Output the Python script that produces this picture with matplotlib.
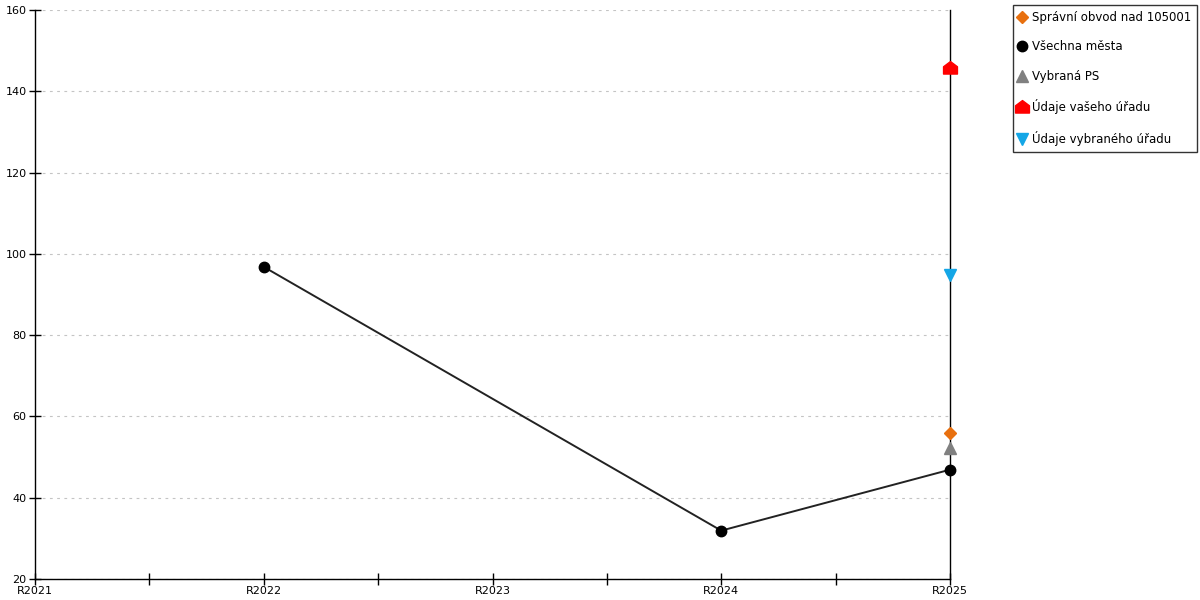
import matplotlib
matplotlib.use("Agg")
import matplotlib.pyplot as plt
from matplotlib.path import Path
import numpy as np

# categories and series
years = ["R2021", "R2022", "R2023", "R2024", "R2025"]
mesta_x = [1, 3, 4]
mesta_y = [96.8, 31.9, 46.9]
obvod_x = [4]
obvod_y = [56.0]
ps_x = [4]
ps_y = [52.2]
vas_x = [4]
vas_y = [145.7]
vybrany_x = [4]
vybrany_y = [94.8]

# house-shaped marker for "Údaje vašeho úřadu"
house = Path([(-1, -0.8), (1, -0.8), (1, 0.25), (0, 1), (-1, 0.25), (-1, -0.8)],
             [Path.MOVETO, Path.LINETO, Path.LINETO, Path.LINETO, Path.LINETO, Path.CLOSEPOLY])

plt.rcParams['font.family'] = ['DejaVu Sans']
fig = plt.figure(figsize=(12, 6), dpi=100)
ax = fig.add_axes([35/1200, 21/600, 915/1200, 569/600])

ax.plot(obvod_x, obvod_y, linestyle='none', marker='D', markersize=6, color='#e8700f',
        label='Správní obvod nad 105001', zorder=4, clip_on=False)
ax.plot(mesta_x, mesta_y, color='#222222', linewidth=1.4, marker='o', markersize=7.5,
        markerfacecolor='black', markeredgecolor='black', zorder=3, clip_on=False)
ax.plot([], [], linestyle='none', marker='o', markersize=7.5, color='black', label='Všechna města')
ax.plot(ps_x, ps_y, linestyle='none', marker='^', markersize=8, color='#808080',
        label='Vybraná PS', zorder=4, clip_on=False)
ax.plot(vas_x, vas_y, linestyle='none', marker=house, markersize=10, color='#ff0000',
        label='Údaje vašeho úřadu', zorder=4, clip_on=False)
ax.plot(vybrany_x, vybrany_y, linestyle='none', marker='v', markersize=8, color='#14a6e6',
        label='Údaje vybraného úřadu', zorder=4, clip_on=False)

ax.set_xlim(0, 4)
ax.set_ylim(20, 160)
ax.set_xticks(range(len(years)))
ax.set_xticklabels(years)
ax.set_xticks(np.arange(0.5, 4, 1), minor=True)
ax.set_yticks(range(20, 161, 20))

ax.tick_params(axis='both', which='both', direction='inout', length=8, width=1,
               labelsize=8, colors='black', pad=2)
ax.tick_params(axis='x', pad=1)
ax.spines['top'].set_visible(False)
for s in ('left', 'bottom', 'right'):
    ax.spines[s].set_color('black')
    ax.spines[s].set_linewidth(1)

ax.grid(True, axis='y', color='#c4c4c4', linestyle=(0, (2.5, 4)), linewidth=0.8)
ax.set_axisbelow(True)

leg = fig.legend(loc='upper left', bbox_to_anchor=(1013/1200, 1 - 5/600), frameon=True,
                 fancybox=False, edgecolor='black', fontsize=8.5, labelspacing=1.4,
                 handlelength=0.6, handletextpad=0.5, borderpad=0.5, borderaxespad=0)
leg.get_frame().set_linewidth(1)

fig.savefig("out.png", dpi=100, facecolor='white')
